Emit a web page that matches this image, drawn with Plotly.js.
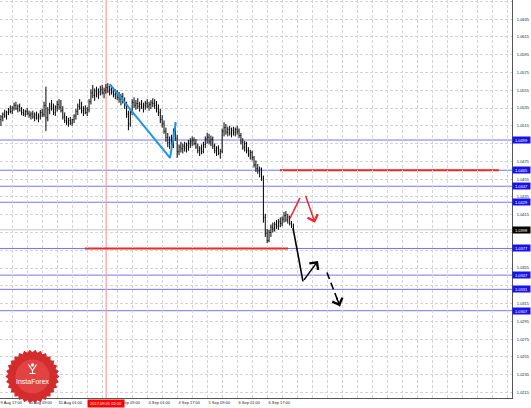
<!DOCTYPE html>
<html><head><meta charset="utf-8">
<script src="https://cdn.plot.ly/plotly-3.0.1.min.js"></script>
<style>html,body{margin:0;padding:0;background:#fff;}#chart{width:531px;height:408px;}</style>
</head><body><div id="chart"></div>
<script>
// ---- H1 bars ----
const barOpen = [
1.0522,1.0525,1.0528,1.0526,1.0530,1.0533,1.0531,1.0535,1.0538,1.0534,
1.0537,1.0532,1.0530,1.0528,1.0531,1.0529,1.0527,1.0528,1.0525,1.0527,
1.0524,1.0526,1.0530,1.0528,1.0538,1.0524,1.0533,1.0537,1.0535,1.0530,
1.0536,1.0539,1.0536,1.0532,1.0525,1.0521,1.0519,1.0521,1.0518,1.0522,
1.0526,1.0531,1.0537,1.0535,1.0532,1.0534,1.0530,1.0533,1.0542,1.0552,
1.0549,1.0554,1.0551,1.0553,1.0556,1.0552,1.0555,1.0558,1.0554,1.0556,
1.0553,1.0550,1.0552,1.0547,1.0545,1.0548,1.0542,1.0538,1.0528,1.0517,
1.0530,1.0541,1.0538,1.0540,1.0537,1.0539,1.0536,1.0538,1.0540,1.0537,
1.0539,1.0541,1.0540,1.0538,1.0534,1.0530,1.0522,1.0517,1.0509,1.0502,
1.0496,1.0499,1.0494,1.0508,1.0501,1.0486,1.0491,1.0489,1.0492,1.0490,
1.0493,1.0495,1.0497,1.0499,1.0495,1.0491,1.0487,1.0489,1.0486,1.0494,
1.0500,1.0502,1.0497,1.0500,1.0492,1.0487,1.0490,1.0484,1.0486,1.0509,
1.0513,1.0508,1.0511,1.0507,1.0510,1.0508,1.0511,1.0509,1.0504,1.0497,
1.0491,1.0495,1.0487,1.0483,1.0485,1.0479,1.0471,1.0467,1.0464,1.0466,
1.0456,1.0412,1.0394,1.0386,1.0395,1.0401,1.0399,1.0404,1.0402,1.0407,
1.0405,1.0410,1.0414,1.0409,1.0412,1.0405,1.0402];
const barHigh = [
1.0527,1.0530,1.0533,1.0532,1.0535,1.0538,1.0537,1.0541,1.0542,1.0539,
1.0540,1.0536,1.0534,1.0533,1.0535,1.0532,1.0531,1.0532,1.0530,1.0531,
1.0529,1.0533,1.0534,1.0542,1.0559,1.0536,1.0541,1.0544,1.0540,1.0538,
1.0543,1.0545,1.0544,1.0537,1.0530,1.0526,1.0524,1.0525,1.0523,1.0528,
1.0534,1.0540,1.0545,1.0542,1.0537,1.0538,1.0536,1.0545,1.0556,1.0561,
1.0557,1.0559,1.0557,1.0560,1.0561,1.0558,1.0562,1.0563,1.0560,1.0561,
1.0558,1.0556,1.0555,1.0553,1.0551,1.0552,1.0547,1.0542,1.0532,1.0533,
1.0545,1.0547,1.0544,1.0546,1.0542,1.0544,1.0541,1.0543,1.0545,1.0542,
1.0544,1.0546,1.0545,1.0543,1.0539,1.0534,1.0527,1.0521,1.0513,1.0507,
1.0503,1.0505,1.0512,1.0519,1.0505,1.0494,1.0497,1.0495,1.0497,1.0496,
1.0499,1.0501,1.0503,1.0502,1.0500,1.0495,1.0492,1.0494,1.0497,1.0503,
1.0507,1.0506,1.0504,1.0503,1.0495,1.0492,1.0493,1.0489,1.0512,1.0519,
1.0517,1.0514,1.0515,1.0513,1.0514,1.0513,1.0515,1.0512,1.0507,1.0501,
1.0498,1.0497,1.0491,1.0488,1.0487,1.0481,1.0476,1.0472,1.0469,1.0468,
1.0459,1.0416,1.0399,1.0398,1.0404,1.0406,1.0407,1.0409,1.0410,1.0412,
1.0413,1.0418,1.0419,1.0416,1.0414,1.0408,1.0405];
const barLow = [
1.0515,1.0520,1.0524,1.0522,1.0527,1.0529,1.0528,1.0532,1.0533,1.0530,
1.0531,1.0527,1.0526,1.0525,1.0527,1.0524,1.0522,1.0523,1.0520,1.0522,
1.0519,1.0522,1.0525,1.0525,1.0509,1.0520,1.0528,1.0532,1.0527,1.0526,
1.0531,1.0533,1.0530,1.0522,1.0518,1.0516,1.0514,1.0516,1.0515,1.0518,
1.0522,1.0527,1.0533,1.0529,1.0526,1.0528,1.0526,1.0530,1.0539,1.0546,
1.0543,1.0547,1.0545,1.0549,1.0550,1.0546,1.0551,1.0552,1.0549,1.0550,
1.0547,1.0545,1.0544,1.0541,1.0538,1.0540,1.0534,1.0524,1.0510,1.0514,
1.0527,1.0535,1.0533,1.0534,1.0531,1.0534,1.0530,1.0533,1.0535,1.0532,
1.0534,1.0536,1.0534,1.0530,1.0526,1.0518,1.0513,1.0506,1.0497,1.0491,
1.0489,1.0490,1.0490,1.0498,1.0479,1.0482,1.0485,1.0484,1.0486,1.0485,
1.0487,1.0490,1.0492,1.0493,1.0489,1.0484,1.0481,1.0483,1.0484,1.0490,
1.0495,1.0494,1.0492,1.0489,1.0484,1.0481,1.0482,1.0478,1.0484,1.0503,
1.0505,1.0503,1.0504,1.0502,1.0504,1.0503,1.0505,1.0501,1.0494,1.0488,
1.0486,1.0484,1.0480,1.0477,1.0476,1.0468,1.0463,1.0461,1.0457,1.0453,
1.0406,1.0390,1.0383,1.0384,1.0390,1.0395,1.0396,1.0399,1.0398,1.0401,
1.0402,1.0406,1.0407,1.0405,1.0403,1.0400,1.0396];
const barClose = [
1.0525,1.0528,1.0526,1.0530,1.0533,1.0531,1.0535,1.0538,1.0534,1.0537,
1.0532,1.0530,1.0528,1.0531,1.0529,1.0527,1.0528,1.0525,1.0527,1.0524,
1.0526,1.0530,1.0528,1.0538,1.0524,1.0533,1.0537,1.0535,1.0530,1.0536,
1.0539,1.0536,1.0532,1.0525,1.0521,1.0519,1.0521,1.0518,1.0522,1.0526,
1.0531,1.0537,1.0535,1.0532,1.0534,1.0530,1.0533,1.0542,1.0552,1.0549,
1.0554,1.0551,1.0553,1.0556,1.0552,1.0555,1.0558,1.0554,1.0556,1.0553,
1.0550,1.0552,1.0547,1.0545,1.0548,1.0542,1.0538,1.0528,1.0517,1.0530,
1.0541,1.0538,1.0540,1.0537,1.0539,1.0536,1.0538,1.0540,1.0537,1.0539,
1.0541,1.0540,1.0538,1.0534,1.0530,1.0522,1.0517,1.0509,1.0502,1.0496,
1.0499,1.0494,1.0508,1.0501,1.0486,1.0491,1.0489,1.0492,1.0490,1.0493,
1.0495,1.0497,1.0499,1.0495,1.0491,1.0487,1.0489,1.0486,1.0494,1.0500,
1.0502,1.0497,1.0500,1.0492,1.0487,1.0490,1.0484,1.0486,1.0509,1.0513,
1.0508,1.0511,1.0507,1.0510,1.0508,1.0511,1.0509,1.0504,1.0497,1.0491,
1.0495,1.0487,1.0483,1.0485,1.0479,1.0471,1.0467,1.0464,1.0466,1.0456,
1.0412,1.0394,1.0386,1.0395,1.0401,1.0399,1.0404,1.0402,1.0407,1.0405,
1.0410,1.0414,1.0409,1.0412,1.0405,1.0402,1.0398];
const barIndex = barOpen.map((_, i) => i);

// ---- levels and drawings ----
const blueLevels = [1.0499, 1.0465, 1.0447, 1.0429, 1.0377, 1.0347, 1.0331, 1.0307];
const blueLevelLabels = ['1.0499','1.0465','1.0447','1.0429','1.0377','1.0347','1.0331','1.0307'];
const currentPrice = 1.0398;
const currentPriceLabel = '1.0398';
const redLevels = [1.0465, 1.0377];
const redLevelStartBar = [148.8, 44.8];
const redLevelEndBar = [265.6, 153.1];
const markerLineBar = 56.1;
const markerLineLabel = '2017.09.01 02:00';
const waveBars = [58.0, 90.2, 93.3];
const wavePrices = [1.0562, 1.0479, 1.0519];
const redRiseBars = [154.2, 159.5];
const redRisePrices = [1.0411, 1.0434];
const redFallBars = [162.2, 167.5];
const redFallPrices = [1.0438, 1.0406];
const blackDropBars = [155.8, 161.1, 169.1];
const blackDropPrices = [1.0400, 1.0340, 1.0363];
const blackDashBars = [173.9, 180.8];
const blackDashPrices = [1.0350, 1.0312];

// ---- axes ----
const xLabelBars = [-0.45, 14.43, 30.43, 46.43, 62.43, 78.43, 94.43, 110.43, 126.43, 142.43];
const xLabels = ['9 Aug 17:00','30 Aug 09:00','31 Aug 01:00','31 Aug 17:00','1 Sep 09:00','4 Sep 01:00','4 Sep 17:00','5 Sep 09:00','6 Sep 01:00','6 Sep 17:00'];
const xGridStart = 6.43, xGridStep = 8, xMax = 272.6;
const yTickStart = 1.0215, yTickStep = 0.002, yTickEnd = 1.0656;
const yRange = [1.02088, 1.06565];

const FONT = 'Liberation Sans, Arial, sans-serif';
const tickVals = [], tickText = [];
for (let v = xGridStart; v < xMax; v += xGridStep) {
  const j = xLabelBars.findIndex(b => Math.abs(b - v) < 0.01);
  // a label that sits wholly under the red date box is hidden by it
  const underBox = j >= 0 && xLabelBars[j] > markerLineBar - 11 && xLabelBars[j] < markerLineBar - 2;
  tickVals.push(v); tickText.push(j >= 0 && !underBox ? xLabels[j] : '');
}
tickVals.unshift(xLabelBars[0]); tickText.unshift(xLabels[0]);

// y ticks: label hidden where a price box sits on top of it
const boxedPrices = blueLevels.concat([currentPrice]);
const yTickVals = [], yTickText = [];
for (let v = yTickStart; v < yTickEnd; v += yTickStep) {
  const covered = boxedPrices.some(p => Math.abs(p - v) < 0.00055);
  yTickVals.push(v); yTickText.push(covered ? '' : v.toFixed(4));
}

const traces = [
  {type:'ohlc', x:barIndex, open:barOpen, high:barHigh, low:barLow, close:barClose,
   increasing:{line:{color:'#000', width:1}}, decreasing:{line:{color:'#000', width:1}},
   tickwidth:0.3, hoverinfo:'skip', showlegend:false},
  {type:'scatter', mode:'lines', x:waveBars, y:wavePrices, line:{color:'#1e96e6', width:2}, hoverinfo:'skip', showlegend:false},
  {type:'scatter', mode:'lines', x:redRiseBars, y:redRisePrices, line:{color:'#ee2a2a', width:1.6}, hoverinfo:'skip', showlegend:false},
  {type:'scatter', mode:'lines', x:blackDropBars.slice(0,2), y:blackDropPrices.slice(0,2), line:{color:'#000', width:1.6}, hoverinfo:'skip', showlegend:false},
  {type:'scatter', mode:'lines', x:blackDashBars, y:blackDashPrices, line:{color:'#000', width:1.6, dash:'7px,4px'}, hoverinfo:'skip', showlegend:false}
];

const shapes = [];
blueLevels.forEach(l => shapes.push({type:'line', xref:'paper', x0:0, x1:1, yref:'y', y0:l, y1:l, line:{color:'#7474ff', width:1}, layer:'below'}));
shapes.push({type:'line', xref:'paper', x0:0, x1:1, yref:'y', y0:currentPrice, y1:currentPrice, line:{color:'#c8c8c8', width:1}, layer:'below'});
redLevels.forEach((l, i) => shapes.push({type:'line', xref:'x', x0:redLevelStartBar[i], x1:redLevelEndBar[i], yref:'y', y0:l, y1:l, line:{color:'#e82a2a', width:2}, layer:'below'}));
shapes.push({type:'line', xref:'x', x0:markerLineBar, x1:markerLineBar, yref:'paper', y0:0, y1:1, line:{color:'#ff9a9a', width:1.2}, layer:'below'});

// logo (watermark)
const PW = 512, PH = 398;
const px2x = p => p / PW, py2y = p => (PH - p) / PH;
const lcx = 32.5, lcy = 376.5;
let star = '';
const teeth = 30;
for (let k = 0; k < teeth * 2; k++) {
  const a = Math.PI * k / teeth, r = k % 2 ? 24.3 : 27;
  star += (k ? 'L' : 'M') + px2x(lcx + r * Math.cos(a)).toFixed(5) + ',' + py2y(lcy + r * Math.sin(a)).toFixed(5);
}
star += 'Z';
shapes.push({type:'path', xref:'paper', yref:'paper', path:star, fillcolor:'#d42c2c', line:{width:0}, layer:'above'});
shapes.push({type:'circle', xref:'paper', yref:'paper', x0:px2x(lcx-17), x1:px2x(lcx+17), y0:py2y(lcy+17), y1:py2y(lcy-17), fillcolor:'rgba(255,110,110,0.35)', line:{width:0}, layer:'above'});
shapes.push({type:'circle', xref:'paper', yref:'paper', x0:px2x(lcx-1.6), x1:px2x(lcx+1.6), y0:py2y(lcy-10), y1:py2y(lcy-13.2), fillcolor:'#fff', line:{width:0}, layer:'above'});
shapes.push({type:'path', xref:'paper', yref:'paper',
  path:'M'+px2x(lcx-4)+','+py2y(lcy-12)+'L'+px2x(lcx)+','+py2y(lcy-6)+'L'+px2x(lcx+4)+','+py2y(lcy-12)+'M'+px2x(lcx)+','+py2y(lcy-6)+'L'+px2x(lcx)+','+py2y(lcy-3)+'M'+px2x(lcx-3)+','+py2y(lcy-3)+'L'+px2x(lcx+3)+','+py2y(lcy-3),
  line:{color:'#fff', width:1.2}, layer:'above'});

const annotations = [];
blueLevels.forEach((l, i) => annotations.push({xref:'paper', x:1, xanchor:'left', xshift:0, yref:'y', y:l, yanchor:'middle',
  text:blueLevelLabels[i], showarrow:false, bgcolor:'#1414f0', font:{family:FONT, size:4, color:'#fff'}, width:17, height:6, borderpad:0, align:'center'}));
annotations.push({xref:'paper', x:1, xanchor:'left', yref:'y', y:currentPrice, yanchor:'middle', text:currentPriceLabel, showarrow:false,
  bgcolor:'#000', font:{family:FONT, size:4, color:'#fff'}, width:17, height:6, borderpad:0});
annotations.push({xref:'x', x:markerLineBar, yref:'paper', y:0, yanchor:'top', yshift:-1, text:markerLineLabel, showarrow:false,
  bgcolor:'#ff0000', font:{family:FONT, size:4, color:'#fff'}, width:36, height:7, borderpad:0});
annotations.push({xref:'paper', yref:'paper', x:px2x(lcx), y:py2y(lcy+4.5), text:'InstaForex', showarrow:false,
  font:{family:FONT, size:7, color:'#fff'}, xanchor:'center', yanchor:'middle'});
// arrow heads
const arrowBase = {text:'', showarrow:true, axref:'x', ayref:'y', xref:'x', yref:'y', arrowhead:4, arrowsize:1.4, arrowwidth:1.5, standoff:0, startstandoff:0};
annotations.push(Object.assign({}, arrowBase, {x:redFallBars[1], y:redFallPrices[1], ax:redFallBars[0], ay:redFallPrices[0], arrowcolor:'#ee2a2a'}));
annotations.push(Object.assign({}, arrowBase, {x:blackDropBars[2], y:blackDropPrices[2], ax:blackDropBars[1], ay:blackDropPrices[1], arrowcolor:'#000'}));
const dn = blackDashBars.length - 1;
annotations.push(Object.assign({}, arrowBase, {x:blackDashBars[dn], y:blackDashPrices[dn],
  ax:blackDashBars[dn] - 0.3 * (blackDashBars[dn] - blackDashBars[dn-1]),
  ay:blackDashPrices[dn] - 0.3 * (blackDashPrices[dn] - blackDashPrices[dn-1]), arrowcolor:'#000'}));

const layout = {
  width:531, height:408, margin:{l:0, r:19, t:0, b:10},
  paper_bgcolor:'#fff', plot_bgcolor:'#fff', showlegend:false, hovermode:false,
  font:{family:FONT, size:4, color:'#333'},
  xaxis:{range:[-0.5, xMax], tickmode:'array', tickvals:tickVals, ticktext:tickText, ticklabelposition:'outside right',
    tickangle:0, ticks:'', showgrid:true, gridcolor:'#d4d4d4', griddash:'3px,2px', gridwidth:1, zeroline:false,
    showline:true, linecolor:'#555', linewidth:1, rangeslider:{visible:false}, tickfont:{family:FONT, size:4, color:'#222'}, fixedrange:true},
  yaxis:{range:yRange, side:'right', tickmode:'array', tickvals:yTickVals, ticktext:yTickText,
    ticks:'', ticklabelstandoff:3, showgrid:true, gridcolor:'#d4d4d4', griddash:'3px,2px', gridwidth:1, zeroline:false,
    showline:true, linecolor:'#555', linewidth:1, tickfont:{family:FONT, size:4, color:'#222'}, fixedrange:true},
  shapes:shapes, annotations:annotations
};
Plotly.newPlot('chart', traces, layout, {staticPlot:true, displayModeBar:false});
</script></body></html>
